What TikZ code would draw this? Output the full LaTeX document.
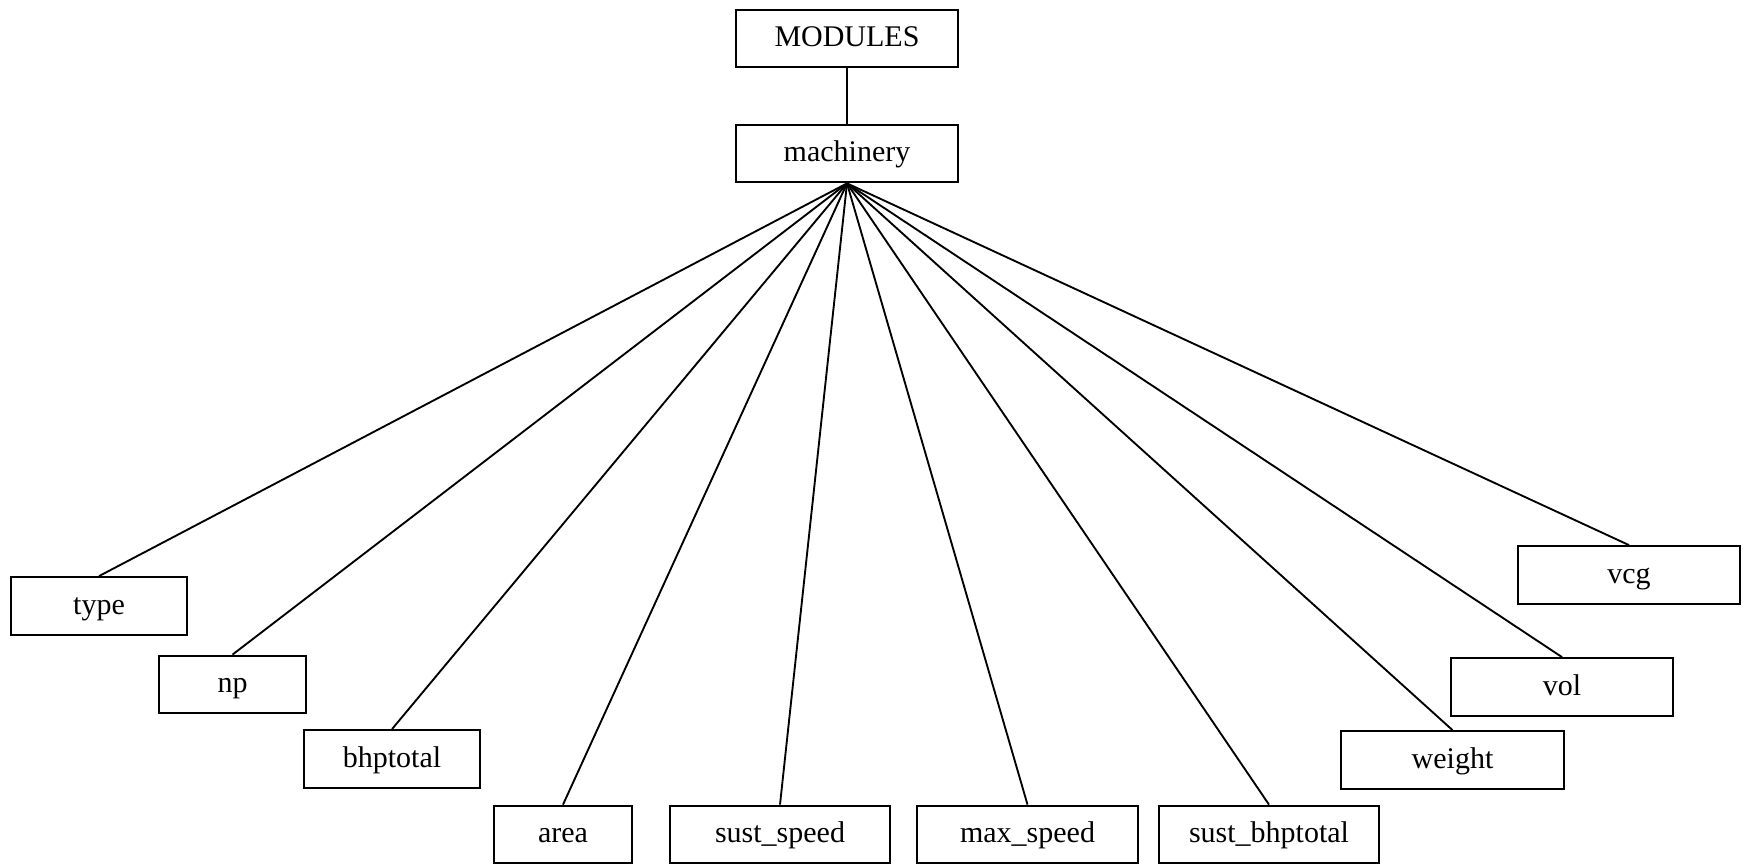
\documentclass[tikz,border=0pt]{standalone}
\usepackage{fontspec}
\setmainfont{Liberation Serif}
\usepackage{xcolor}
\usepackage{tikz}
\tikzset{
  modbox/.style={draw, line width=0.9pt, inner sep=0pt,
                 text height=6.8pt, text depth=0pt,
                 minimum height=23pt, font=\fontsize{12}{14}\selectfont},
  fanline/.style={line width=0.75pt}
}

\begin{document}
\begin{tikzpicture}[x=0.4pt, y=-0.4pt]
    \useasboundingbox (0,0) rectangle (1747,864);
    % top of the tree
    \node[modbox, minimum width=88.8pt] (modules) at (847,38.5) {MODULES};
    \node[modbox, minimum width=88.8pt] (machinery) at (847,153.5) {machinery};
    % leaves
    \node[modbox, minimum width=70.4pt] (type) at (99,606) {type};
    \node[modbox, minimum width=58.8pt] (np) at (232.5,684.5) {np};
    \node[modbox, minimum width=70.4pt] (bhptotal) at (392,759) {bhptotal};
    \node[modbox, minimum width=55.2pt] (area) at (563,834.5) {area};
    \node[modbox, minimum width=88pt] (sustspeed) at (780,834.5) {sust\_speed};
    \node[modbox, minimum width=88.4pt] (maxspeed) at (1027.5,834.5) {max\_speed};
    \node[modbox, minimum width=88pt] (sustbhp) at (1269,834.5) {sust\_bhptotal};
    \node[modbox, minimum width=89.2pt] (weight) at (1452.5,760) {weight};
    \node[modbox, minimum width=88.8pt] (vol) at (1562,687) {vol};
    \node[modbox, minimum width=88.8pt] (vcg) at (1629,575) {vcg};
    % connectors
    \draw[fanline] (modules.south) -- (machinery.north);
    \draw[fanline] (machinery.south) -- (type.north);
    \draw[fanline] (machinery.south) -- (np.north);
    \draw[fanline] (machinery.south) -- (bhptotal.north);
    \draw[fanline] (machinery.south) -- (area.north);
    \draw[fanline] (machinery.south) -- (sustspeed.north);
    \draw[fanline] (machinery.south) -- (maxspeed.north);
    \draw[fanline] (machinery.south) -- (sustbhp.north);
    \draw[fanline] (machinery.south) -- (weight.north);
    \draw[fanline] (machinery.south) -- (vol.north);
    \draw[fanline] (machinery.south) -- (vcg.north);
\end{tikzpicture}
\end{document}
